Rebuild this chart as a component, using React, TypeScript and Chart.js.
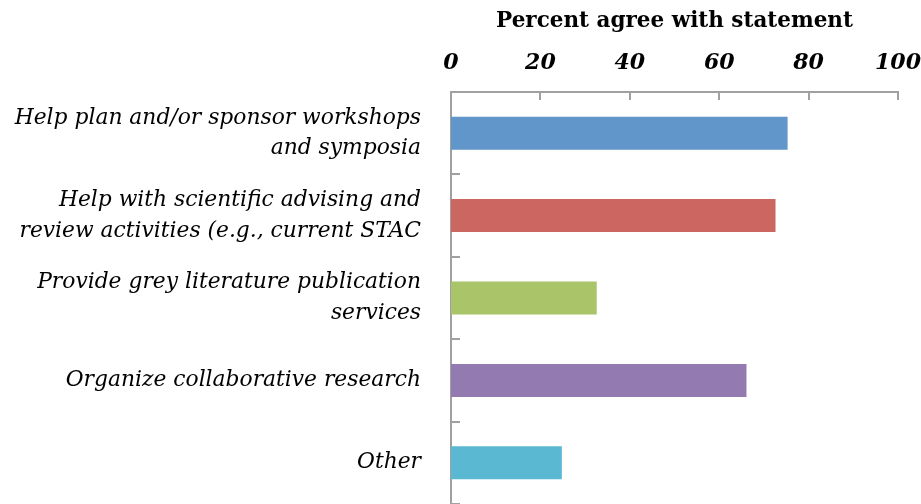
import React, { useEffect, useRef } from "react";
import { Chart, registerables } from "chart.js";

Chart.register(...registerables);

const categories: string[][] = [
  ["Help plan and/or sponsor workshops", "and symposia"],
  ["Help with scientific advising and", "review activities (e.g., current STAC"],
  ["Provide grey literature publication", "services"],
  ["Organize collaborative research"],
  ["Other"],
];
const values: number[] = [75.3, 72.6, 32.6, 66.1, 24.8];
const barColors: string[] = ["#6096c9", "#cc6660", "#aac46a", "#937bb1", "#5bb8d3"];
const xTicks: number[] = [0, 20, 40, 60, 80, 100];
const xTitle = "Percent agree with statement";

const FONT = "'DejaVu Serif', serif";
const AXIS_COLOR = "#a0a0a0";

const innerTicks = {
  id: "innerTicks",
  afterDraw(chart: any) {
    const ctx = chart.ctx;
    const x = chart.scales.x;
    const y = chart.scales.y;
    const area = chart.chartArea;
    ctx.save();
    ctx.strokeStyle = AXIS_COLOR;
    ctx.lineWidth = 2;
    ctx.beginPath();
    xTicks.forEach((v) => {
      if (v === 0) return;
      const px = Math.round(x.getPixelForValue(v));
      ctx.moveTo(px, area.top);
      ctx.lineTo(px, area.top + 8);
    });
    const n = categories.length;
    const step = y.getPixelForValue(1) - y.getPixelForValue(0);
    for (let i = 1; i <= n; i++) {
      const yy = Math.round(y.getPixelForValue(i - 1) + step / 2);
      ctx.moveTo(area.left, yy);
      ctx.lineTo(area.left + 9, yy);
    }
    ctx.stroke();
    ctx.restore();
  },
};

export default function App() {
  const ref = useRef<HTMLCanvasElement | null>(null);
  useEffect(() => {
    document.body.style.margin = "0";
    if (!ref.current) return;
    const chart = new Chart(ref.current, {
      type: "bar",
      data: {
        labels: categories,
        datasets: [
          {
            data: values,
            backgroundColor: barColors,
            barPercentage: 0.4,
            categoryPercentage: 1,
          },
        ],
      },
      plugins: [innerTicks],
      options: {
        indexAxis: "y",
        animation: false,
        responsive: false,
        layout: { padding: { left: 0, right: 23, top: 0, bottom: 0 } },
        plugins: { legend: { display: false }, tooltip: { enabled: false } },
        scales: {
          x: {
            position: "top",
            min: 0,
            max: 100,
            afterBuildTicks: (scale: any) => {
              scale.ticks = xTicks.map((v) => ({ value: v }));
            },
            afterFit: (scale: any) => {
              scale.height = 92;
              scale.paddingLeft = 0;
              scale.paddingRight = 0;
              scale.paddingTop = 0;
              scale.paddingBottom = 0;
            },
            grid: { display: false, drawTicks: false },
            border: { display: true, color: AXIS_COLOR, width: 2 },
            ticks: {
              color: "#000",
              padding: 16,
              font: { family: FONT, size: 22, style: "italic", weight: "bold" },
            },
            title: {
              display: true,
              text: xTitle,
              color: "#000",
              padding: { top: 9, bottom: 0 },
              font: { family: FONT, size: 21.5, weight: "bold" },
            },
          },
          y: {
            afterFit: (scale: any) => {
              scale.width = 451;
              scale.paddingLeft = 0;
              scale.paddingRight = 0;
              scale.paddingTop = 0;
              scale.paddingBottom = 0;
            },
            grid: { display: false, drawTicks: false },
            border: { display: true, color: AXIS_COLOR, width: 2 },
            ticks: {
              color: "#000",
              padding: 30,
              font: { family: FONT, size: 21.8, style: "italic", lineHeight: 1.4 },
            },
          },
        },
      },
    });
    return () => chart.destroy();
  }, []);
  return (
    <div style={{ width: 921, height: 504 }}>
      <canvas ref={ref} width={921} height={504} style={{ display: "block" }} />
    </div>
  );
}
